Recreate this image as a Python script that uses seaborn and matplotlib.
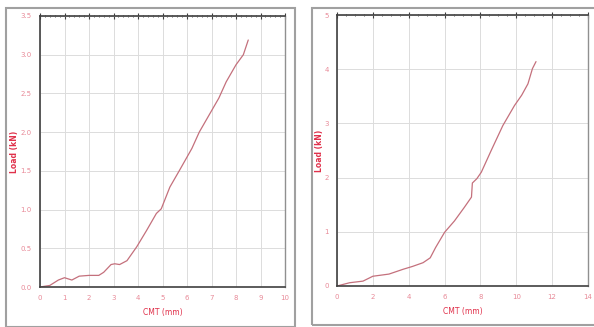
import matplotlib
matplotlib.use("Agg")
import matplotlib.pyplot as plt
import seaborn as sns
import pandas as pd
from matplotlib.ticker import MultipleLocator, FormatStrFormatter
from matplotlib.patches import Rectangle

# 왼쪽 시험 곡선 (CMT mm, Load kN)
left_cmt = [0.0, 0.4, 0.75, 1.0, 1.3, 1.6, 2.0, 2.4, 2.6, 2.9, 3.05, 3.25, 3.55,
            3.95, 4.35, 4.75, 4.95, 5.3, 5.7, 6.2, 6.5, 6.9, 7.3, 7.6, 8.0, 8.3, 8.5]
left_load = [0.0, 0.02, 0.09, 0.12, 0.09, 0.14, 0.15, 0.15, 0.19, 0.29, 0.30, 0.29, 0.34,
             0.52, 0.73, 0.95, 1.01, 1.29, 1.51, 1.79, 2.0, 2.22, 2.44, 2.65, 2.87, 3.0, 3.19]

# 오른쪽 시험 곡선
right_cmt = [0.0, 0.7, 1.45, 2.0, 2.9, 3.7, 4.2, 4.8, 5.2, 5.5, 6.0, 6.55, 7.1, 7.5,
             7.55, 7.8, 8.05, 8.6, 9.25, 9.9, 10.3, 10.65, 10.9, 11.1]
right_load = [0.0, 0.06, 0.09, 0.18, 0.22, 0.31, 0.36, 0.43, 0.52, 0.71, 0.99, 1.2, 1.45, 1.64,
              1.9, 1.98, 2.1, 2.5, 2.96, 3.33, 3.52, 3.73, 4.01, 4.14]

line_color = "#c4707c"
label_color = "#e0304a"
tick_color = "#e88a98"

sns.set_style("white")
fig = plt.figure(figsize=(5.94, 3.27), dpi=100)

# 바깥 회색 테두리
fig.patches.append(Rectangle((6 / 594, 0.0), 289 / 594, 319 / 327, transform=fig.transFigure,
                             fill=False, edgecolor="#a0a0a0", linewidth=1.5))
fig.patches.append(Rectangle((312 / 594, 2 / 327), 290 / 594, 317 / 327, transform=fig.transFigure,
                             fill=False, edgecolor="#a0a0a0", linewidth=1.5))

ax1 = fig.add_axes([40 / 594, 40 / 327, 245 / 594, 271 / 327])
ax2 = fig.add_axes([337 / 594, 41 / 327, 251 / 594, 271 / 327])

df1 = pd.DataFrame({"cmt": left_cmt, "load": left_load})
df2 = pd.DataFrame({"cmt": right_cmt, "load": right_load})

sns.lineplot(data=df1, x="cmt", y="load", ax=ax1, color=line_color, linewidth=0.9, sort=False)
sns.lineplot(data=df2, x="cmt", y="load", ax=ax2, color=line_color, linewidth=0.9, sort=False)

setups = [
    (ax1, 10, 1, 0.2, 3.5, 0.5, 0.05, "%.1f", 1),
    (ax2, 14, 2, 0.5, 5, 1, 0.1, "%d", 0),
]
for ax, xmax, xmaj, xmin, ymax, ymaj, ymin, yfmt, ypad in setups:
    ax.set_xlim(0, xmax)
    ax.set_ylim(0, ymax)
    ax.xaxis.set_major_locator(MultipleLocator(xmaj))
    ax.xaxis.set_minor_locator(MultipleLocator(xmin))
    ax.yaxis.set_major_locator(MultipleLocator(ymaj))
    ax.yaxis.set_minor_locator(MultipleLocator(ymin))
    ax.yaxis.set_major_formatter(FormatStrFormatter(yfmt))
    ax.grid(True, which="major", color="#dcdcdc", linewidth=0.7)
    ax.tick_params(which="major", direction="inout", length=4, width=0.8, color="#404040",
                   labelsize=5, labelcolor=tick_color, pad=4, top=True)
    ax.tick_params(which="minor", direction="inout", length=2, width=0.6, color="#404040", top=True)
    for side in ["left", "bottom", "top"]:
        ax.spines[side].set_color("#404040")
        ax.spines[side].set_linewidth(1.2)
    ax.spines["right"].set_color("#909090")
    ax.spines["right"].set_linewidth(1.0)
    ax.set_xlabel("CMT (mm)", fontsize=5.5, color=label_color, labelpad=5)
    ax.set_ylabel("Load (kN)", fontsize=5.5, color=label_color, labelpad=ypad, fontweight="bold")

fig.savefig("out.png", dpi=100)
